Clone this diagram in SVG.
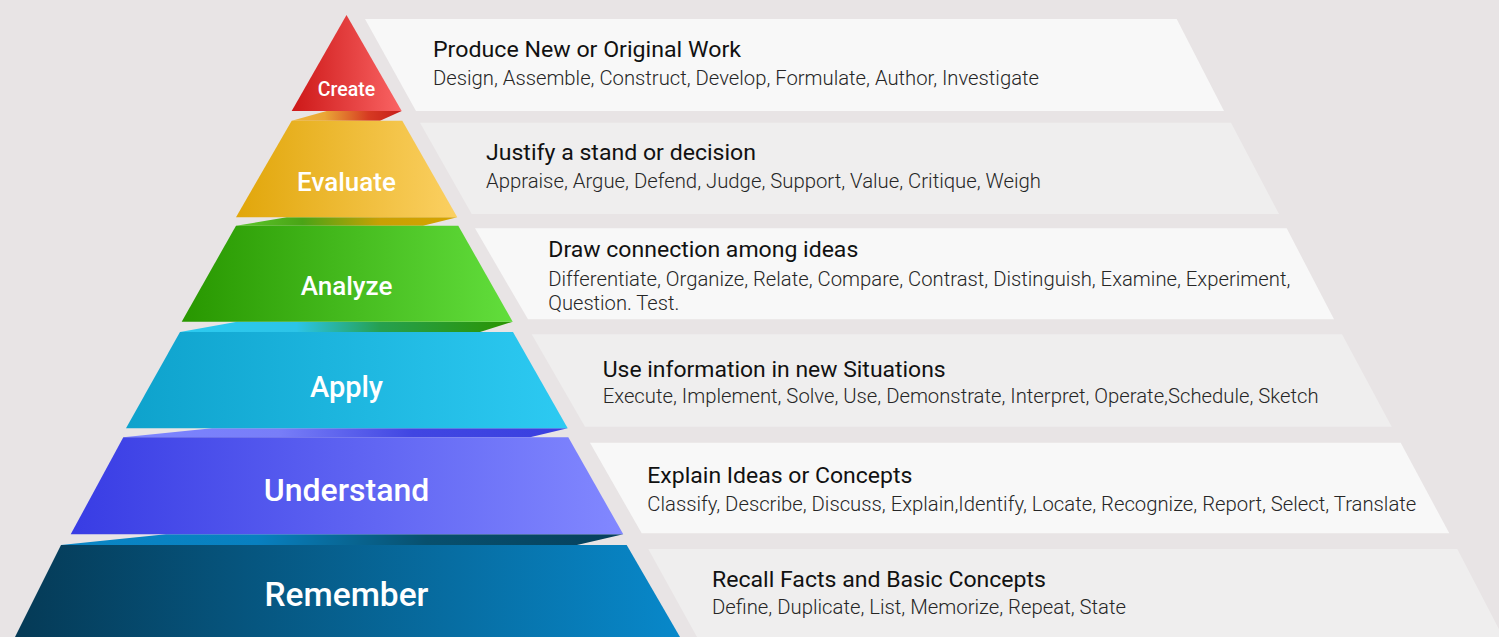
<svg xmlns="http://www.w3.org/2000/svg" width="1499" height="637" viewBox="0 0 1499 637">
<defs>
<style>
.lbl{font-family:Roboto,"Liberation Sans",sans-serif;font-weight:500;fill:#ffffff;text-anchor:middle}
.t{font-family:Roboto,"Liberation Sans",sans-serif;font-size:22px;fill:#111111}
.s{font-family:Roboto,"Liberation Sans",sans-serif;font-weight:300;font-size:20px;fill:#262626}
.pa{fill:#f8f8f8}
.pb{fill:#efeeee}
</style>
<linearGradient id="gCreate" x1="0" x2="1" y1="0" y2="0"><stop offset="0" stop-color="#cd1818"/><stop offset="1" stop-color="#fa6464"/></linearGradient>
<linearGradient id="gEval" x1="0" x2="1" y1="0" y2="0"><stop offset="0" stop-color="#e1a60a"/><stop offset="1" stop-color="#fbd062"/></linearGradient>
<linearGradient id="gAnal" x1="0" x2="1" y1="0" y2="0"><stop offset="0" stop-color="#289700"/><stop offset="1" stop-color="#62de3c"/></linearGradient>
<linearGradient id="gApply" x1="0" x2="1" y1="0" y2="0"><stop offset="0" stop-color="#0ea2cc"/><stop offset="1" stop-color="#2dcaf2"/></linearGradient>
<linearGradient id="gUnd" x1="0" x2="1" y1="0" y2="0"><stop offset="0" stop-color="#383ce4"/><stop offset="1" stop-color="#8288ff"/></linearGradient>
<linearGradient id="gRem" x1="0" x2="1" y1="0" y2="0"><stop offset="0" stop-color="#053a56"/><stop offset="1" stop-color="#0888ca"/></linearGradient>
<linearGradient id="f1" x1="0" x2="1" y1="0" y2="0"><stop offset="0" stop-color="#f0b63a"/><stop offset="0.3" stop-color="#eaa636"/><stop offset="0.7" stop-color="#d63a22"/><stop offset="1" stop-color="#c61c1c"/></linearGradient>
<linearGradient id="f2" x1="0" x2="1" y1="0" y2="0"><stop offset="0" stop-color="#5cc82c"/><stop offset="0.3" stop-color="#4aa416"/><stop offset="0.65" stop-color="#c8a004"/><stop offset="1" stop-color="#d6a400"/></linearGradient>
<linearGradient id="f3" x1="0" x2="1" y1="0" y2="0"><stop offset="0" stop-color="#2ccaf0"/><stop offset="0.35" stop-color="#2cc4e8"/><stop offset="0.6" stop-color="#26a050"/><stop offset="1" stop-color="#2a9400"/></linearGradient>
<linearGradient id="f4" x1="0" x2="1" y1="0" y2="0"><stop offset="0" stop-color="#7c84ff"/><stop offset="0.35" stop-color="#787ef8"/><stop offset="0.65" stop-color="#4046e2"/><stop offset="1" stop-color="#3a40e0"/></linearGradient>
<linearGradient id="f5" x1="0" x2="1" y1="0" y2="0"><stop offset="0" stop-color="#0a86c6"/><stop offset="0.35" stop-color="#0880c0"/><stop offset="0.65" stop-color="#08506e"/><stop offset="1" stop-color="#06405c"/></linearGradient>
</defs>
<rect width="1499" height="637" fill="#e8e4e5"/>

<g id="folds">
<polygon points="291.7,120.7 326.7,111 401.7,111 380,120.7" fill="url(#f1)"/>
<polygon points="236,225.7 286.7,217.3 457.3,217.3 423,225.7" fill="url(#f2)"/>
<polygon points="180,332 237,321.7 512.7,321.7 480,332" fill="url(#f3)"/>
<polygon points="123.3,437.3 212,428.3 567.7,428.3 530,437.3" fill="url(#f4)"/>
<polygon points="61,545 166,534.3 623.3,534.3 577,545" fill="url(#f5)"/>
</g>

<g id="create">
<polygon points="346.5,15 401.7,111 291.7,111" fill="url(#gCreate)"/>
<text class="lbl" x="346.5" y="96" font-size="19.5">Create</text>
<polygon class="pa" points="365,19 1176.7,19 1224,111 416,111"/>
<text class="t" x="433" y="57" textLength="308" lengthAdjust="spacingAndGlyphs">Produce New or Original Work</text>
<text class="s" x="433" y="85" textLength="606" lengthAdjust="spacingAndGlyphs">Design, Assemble, Construct, Develop, Formulate, Author, Investigate</text>
</g>

<g id="evaluate">
<polygon points="291.7,120.7 402.3,120.7 457.3,217.3 236,217.3" fill="url(#gEval)"/>
<text class="lbl" x="346.5" y="191" font-size="26">Evaluate</text>
<polygon class="pb" points="420,122.7 1231,122.7 1279,214 471.7,214"/>
<text class="t" x="486" y="160" textLength="270" lengthAdjust="spacingAndGlyphs">Justify a stand or decision</text>
<text class="s" x="486" y="188.3" textLength="555" lengthAdjust="spacingAndGlyphs">Appraise, Argue, Defend, Judge, Support, Value, Critique, Weigh</text>
</g>

<g id="analyze">
<polygon points="236,225.7 458.3,225.7 512.7,321.7 181.7,321.7" fill="url(#gAnal)"/>
<text class="lbl" x="346.5" y="295" font-size="26">Analyze</text>
<polygon class="pa" points="475,228.3 1286.7,228.3 1334,319.3 528,319.3"/>
<text class="t" x="548.3" y="256.7" textLength="310" lengthAdjust="spacingAndGlyphs">Draw connection among ideas</text>
<text class="s" x="548.3" y="286" textLength="742" lengthAdjust="spacingAndGlyphs">Differentiate, Organize, Relate, Compare, Contrast, Distinguish, Examine, Experiment,</text>
<text class="s" x="548.3" y="309.5" textLength="131" lengthAdjust="spacingAndGlyphs">Question. Test.</text>
</g>

<g id="apply">
<polygon points="180,332 513,332 567.7,428.3 126,428.3" fill="url(#gApply)"/>
<text class="lbl" x="346.5" y="397" font-size="29">Apply</text>
<polygon class="pb" points="531.7,334.3 1342,334.3 1391.7,426.7 585,426.7"/>
<text class="t" x="602.7" y="376.7" textLength="343" lengthAdjust="spacingAndGlyphs">Use information in new Situations</text>
<text class="s" x="602.7" y="402.7" textLength="716" lengthAdjust="spacingAndGlyphs">Execute, Implement, Solve, Use, Demonstrate, Interpret, Operate,Schedule, Sketch</text>
</g>

<g id="understand">
<polygon points="123.3,437.3 568.3,437.3 623.3,534.3 70.7,534.3" fill="url(#gUnd)"/>
<text class="lbl" x="346.5" y="500.5" font-size="32">Understand</text>
<polygon class="pa" points="590,442.7 1400.7,442.7 1449.3,533.3 641.7,533.3"/>
<text class="t" x="647.3" y="483.3" textLength="265" lengthAdjust="spacingAndGlyphs">Explain Ideas or Concepts</text>
<text class="s" x="647.3" y="511" textLength="769" lengthAdjust="spacingAndGlyphs">Classify, Describe, Discuss, Explain,Identify, Locate, Recognize, Report, Select, Translate</text>
</g>

<g id="remember">
<polygon points="61,545 626.7,545 680,637 15,637" fill="url(#gRem)"/>
<text class="lbl" x="346.5" y="606" font-size="33.5">Remember</text>
<polygon class="pb" points="648.3,549 1457.3,549 1503,637 697,637"/>
<text class="t" x="712" y="586.5" textLength="334" lengthAdjust="spacingAndGlyphs">Recall Facts and Basic Concepts</text>
<text class="s" x="712" y="614" textLength="414" lengthAdjust="spacingAndGlyphs">Define, Duplicate, List, Memorize, Repeat, State</text>
</g>
</svg>
